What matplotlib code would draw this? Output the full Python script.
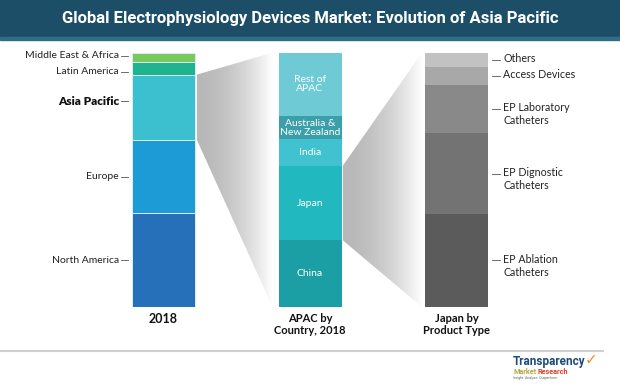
import matplotlib.pyplot as plt
import numpy as np
from matplotlib.patches import Polygon, Rectangle

# data (% share, bottom to top)
regions = ["North America", "Europe", "Asia Pacific", "Latin America", "Middle East & Africa"]
region_share = [36.8, 28.8, 25.8, 4.9, 3.7]
region_colors = ["#2570b9", "#1c9bd7", "#3cbfcf", "#1fb48e", "#7ac95f"]

apac_countries = ["China", "Japan", "India", "Australia &\nNew Zealand", "Rest of\nAPAC"]
apac_share = [26.3, 29.1, 10.5, 9.2, 24.9]
apac_colors = ["#1b9ea4", "#22b8bf", "#41c2d0", "#3a9fa8", "#6ecbd6"]

japan_products = ["EP Ablation\nCatheters", "EP Dignostic\nCatheters", "EP Laboratory\nCatheters",
                  "Access Devices", "Others"]
japan_share = [36.6, 31.7, 19.0, 7.2, 5.5]
japan_colors = ["#5b5b5b", "#737373", "#898989", "#a8a8a8", "#c2c2c2"]

bar_names = ["2018", "APAC by\nCountry, 2018", "Japan by\nProduct Type"]

W, H = 620, 387
fig = plt.figure(figsize=(W / 100, H / 100), dpi=100)
plt.rcParams['font.family'] = ['Lato', 'DejaVu Sans']

def fx(px):
    return px / W

def fy(py):
    return 1 - py / H

# title bar
fig.patches.append(Rectangle((0, fy(37.5)), 1, 37.5 / H, transform=fig.transFigure,
                             color="#1d4e67", zorder=0))
fig.patches.append(Rectangle((0, fy(39.5)), 1, 2 / H, transform=fig.transFigure,
                             color="#2e6f88", zorder=0))
fig.text(0.5, fy(19), "Global Electrophysiology Devices Market: Evolution of Asia Pacific",
         family=['Roboto', 'DejaVu Sans'], stretch='condensed', weight='bold', fontsize=12,
         color="white", ha='center', va='center')

# main axes: x in pixels, y in percent
ax = fig.add_axes([0, fy(307), 1, (307 - 52.7) / H])
ax.set_xlim(0, W)
ax.set_ylim(0, 100)
ax.axis('off')

xs = [163.5, 310, 456.5]
bw = 63
stacks = [(region_share, region_colors), (apac_share, apac_colors), (japan_share, japan_colors)]
for i, (vals, cols) in enumerate(stacks):
    bottoms = np.concatenate([[0], np.cumsum(vals)[:-1]])
    if i == 0:
        ax.bar(xs[i], vals, bottom=bottoms, width=bw, color=cols,
               edgecolor="#d8f0f5", linewidth=0.7, zorder=3)
    else:
        ax.bar(xs[i], vals, bottom=bottoms, width=bw, color=cols, linewidth=0, zorder=3)

# gradient "zoom" shadows
grad = (np.linspace(0, 1, 256) ** 1.8 * 0.28 + 0.72).reshape(1, -1)

def shadow(x0, y0a, y0b, x1):
    poly = Polygon([(x0, y0a), (x1, 0), (x1, 100), (x0, y0b)], closed=True,
                   facecolor='none', edgecolor='none')
    ax.add_patch(poly)
    im = ax.imshow(grad, cmap='gray', vmin=0, vmax=1, extent=[x0, x1, 0, 100],
                   aspect='auto', zorder=1, interpolation='bilinear')
    im.set_clip_path(poly)

c1 = np.cumsum(region_share)
shadow(xs[0] + bw / 2 + 2, c1[1], c1[2], xs[1] - bw / 2 - 6)
c2 = np.cumsum(apac_share)
shadow(xs[1] + bw / 2 + 1, c2[0], c2[1], xs[2] - bw / 2 - 3)
ax.set_xlim(0, W)
ax.set_ylim(0, 100)

# left labels
mids = np.cumsum(region_share) - np.array(region_share) / 2
mids_adj = mids.copy()
mids_adj[2] += 2.5
mids_adj[3] -= 1.3
mids_adj[4] += 0.6
for name, y in zip(regions, mids_adj):
    ax.plot([121, 128], [y, y], color="#555555", lw=0.6)
    bold = name == "Asia Pacific"
    ax.text(119, y, name, ha='right', va='center', fontsize=8.5 if bold else 7.5,
            color="#111111" if bold else "#222222", weight='heavy' if bold else 'normal')

# labels inside APAC bar
mids2 = np.cumsum(apac_share) - np.array(apac_share) / 2
for name, y in zip(apac_countries, mids2):
    ax.text(xs[1], y, name, ha='center', va='center', fontsize=7.5, color="white",
            linespacing=1.0, zorder=4)

# right labels
mids3 = np.cumsum(japan_share) - np.array(japan_share) / 2
for name, y in zip(japan_products, mids3):
    ax.plot([492, 500], [y, y], color="#555555", lw=0.6)
    ax.annotate(name, xy=(503, y), xytext=(0, 5), textcoords='offset points',
                ha='left', va='top', fontsize=7.7, color="#222222", linespacing=1.25)

# bar titles
for x, name in zip(xs, bar_names):
    fig.text(fx(x), fy(313), name, ha='center', va='top',
             fontsize=9 if name == "2018" else 8, weight='bold',
             color="#111111", linespacing=1.1)

# bottom rule and logo
logo_font = ['Roboto', 'DejaVu Sans']
fig.add_artist(plt.Line2D([0, fx(603)], [fy(351), fy(351)], color="#cfcfcf", lw=1.5))
fig.text(fx(513), fy(362), "Transparency", fontsize=8.5, weight='bold', color="#1e4a7a",
         ha='left', va='center', family=logo_font)
fig.text(fx(513), fy(371.5), "Market", fontsize=5.2, weight='bold', color="#b5a642",
         ha='left', va='center', family=logo_font)
fig.text(fx(537), fy(371.5), "Research", fontsize=5.2, weight='bold', color="#d8402a",
         ha='left', va='center', family=logo_font)
fig.text(fx(513), fy(378), "Insight. Analyze. Outperform.", fontsize=2.5, color="#666666",
         ha='left', va='center', family=logo_font)
fig.text(fx(591), fy(360), "\u2713", fontsize=11, weight='bold', color="#e8902a",
         ha='center', va='center', family=['DejaVu Sans'])

fig.savefig("out.png", dpi=100)
